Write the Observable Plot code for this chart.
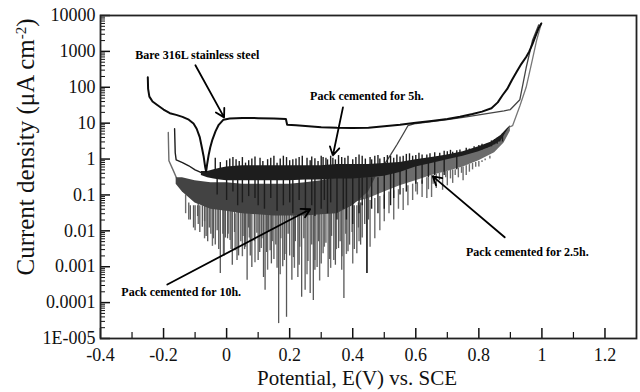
<!DOCTYPE html>
<html><head><meta charset="utf-8">
<script src="https://cdn.jsdelivr.net/npm/d3@7"></script>
<script src="https://cdn.jsdelivr.net/npm/@observablehq/plot@0.6"></script>
<style>body{margin:0;background:#fff} svg text{font-family:"Liberation Serif","Times New Roman",serif !important}</style>
</head><body><div id="chart"></div>
<script>
// ---------- axes ----------
const xTicks = [-0.4, -0.2, 0, 0.2, 0.4, 0.6, 0.8, 1, 1.2];
const xTickLabels = ["-0.4", "-0.2", "0", "0.2", "0.4", "0.6", "0.8", "1", "1.2"];
const xMinor = [-0.3, -0.1, 0.1, 0.3, 0.5, 0.7, 0.9, 1.1];
const yTicks = [1e-5, 1e-4, 1e-3, 1e-2, 1e-1, 1, 10, 100, 1000, 10000];
const yTickLabels = ["1E-005", "0.0001", "0.001", "0.01", "0.1", "1", "10", "100", "1000", "10000"];
const xLabel = "Potential, E(V) vs. SCE";
const yLabel = ["Current density (\u03bcA cm", "-2", ")"];

// ---------- Bare 316L stainless steel ----------
const bareE = [-0.25,-0.249,-0.245,-0.235,-0.22,-0.2,-0.18,-0.16,-0.14,-0.12,-0.105,-0.095,-0.085,-0.078,-0.073,-0.068,-0.065,-0.062,-0.057,-0.052,-0.045,-0.035,-0.025,-0.01,0.01,0.05,0.1,0.15,0.188,0.192,0.22,0.26,0.3,0.35,0.4,0.45,0.5,0.55,0.6,0.65,0.7,0.74,0.78,0.81,0.84,0.86,0.875,0.89,0.905,0.92,0.935,0.95,0.96,0.97,0.98,0.99,0.998];
const bareI = [190,90,55,40,32,24,19,17,15,12.5,9.8,7,4,2,1.2,0.6,0.45,0.7,1.3,2.1,3.5,6,9,12.5,13.5,14,13.8,13.5,13,9,8.7,8.2,7.7,7.4,7.3,7.5,8.2,9,10.3,11.5,13,15,18,21,26,38,60,90,160,270,450,700,1000,1600,2700,4500,6000];

// ---------- Pack cemented for 10h ----------
const h10BandE  = [-0.16,-0.14,-0.1,-0.05,0,0.05,0.1,0.15,0.2,0.25,0.3,0.35,0.4,0.45,0.48];
const h10BandHi = [0.3,0.3,0.25,0.22,0.22,0.2,0.2,0.2,0.2,0.22,0.25,0.3,0.4,0.5,0.55];
const h10BandLo = [0.2,0.12,0.06,0.04,0.035,0.03,0.028,0.026,0.026,0.026,0.028,0.03,0.05,0.12,0.4];
const h10LineE = [0.48,0.5,0.52,0.54,0.56,0.575,0.6,0.65,0.7,0.75,0.8,0.85,0.88,0.9,0.93,0.95,0.97,0.99];
const h10LineI = [0.5,0.7,1.3,2.5,5,8.5,9.8,11,12.5,14.5,17,20,22,24,45,350,2000,5500];
const h10Spikes = [[-0.12,0.06,0.02],[-0.1,0.05,0.01],[-0.077,0.05,0.0126],[-0.06,0.05,0.005],[-0.05,0.05,0.008],[-0.036,0.05,0.004],[-0.02,0.05,6.5e-4],[-0.004,0.05,0.0063],[0.011,0.05,0.0054],[0.018,0.05,0.0011],[0.033,0.05,0.0015],[0.045,0.05,0.005],[0.06,0.05,0.0035],[0.065,0.05,4.2e-4],[0.08,0.05,9.5e-4],[0.096,0.05,0.0085],[0.105,0.05,0.0025],[0.117,0.05,5e-4],[0.122,0.05,2.2e-4],[0.138,0.05,0.0028],[0.15,0.05,0.0016],[0.165,0.05,2.6e-5],[0.178,0.05,0.001],[0.19,0.05,3.9e-5],[0.2,0.05,0.002],[0.207,0.05,4.2e-4],[0.226,0.05,5e-4],[0.238,0.05,1.4e-4],[0.249,0.05,2.2e-4],[0.265,0.05,1.8e-4],[0.275,0.05,1.15e-4],[0.287,0.05,9.5e-4],[0.306,0.05,0.0023],[0.322,0.05,5e-4],[0.34,0.05,0.0015],[0.355,0.05,0.0032],[0.372,0.05,1.3e-4],[0.39,0.05,0.004],[0.413,0.05,0.0023],[0.43,0.06,0.0063],[0.445,0.1,6.5e-4],
 [-0.115,0.05,0.02],[-0.105,0.05,0.012],[-0.092,0.05,0.025],[-0.085,0.05,0.009],[-0.07,0.05,0.018],[-0.065,0.05,0.007],[-0.055,0.05,0.012],[-0.042,0.05,0.006],[-0.03,0.05,0.01],[-0.025,0.05,0.003],[-0.012,0.05,0.008],[-0.008,0.05,0.002],[0.003,0.05,0.006],[0.014,0.05,0.003],[0.025,0.05,0.009],[0.038,0.05,0.002],[0.052,0.05,0.007],[0.057,0.05,0.003],[0.07,0.05,0.012],[0.075,0.05,0.002],[0.088,0.05,0.005],[0.1,0.05,0.0015],[0.112,0.05,0.006],[0.127,0.05,0.0025],[0.133,0.05,0.009],[0.142,0.05,0.0012],[0.156,0.05,0.004],[0.16,0.05,0.0009],[0.172,0.05,0.006],[0.183,0.05,0.0015],[0.195,0.05,0.008],[0.212,0.05,0.0018],[0.218,0.05,0.005],[0.23,0.05,0.0011],[0.245,0.05,0.006],[0.258,0.05,0.0014],[0.27,0.05,0.004],[0.28,0.05,0.0008],[0.292,0.05,0.005],[0.3,0.05,0.0012],[0.315,0.05,0.0045],[0.327,0.05,0.0016],[0.333,0.05,0.007],[0.345,0.05,0.0011],[0.36,0.05,0.005],[0.366,0.05,0.0019],[0.378,0.05,0.008],[0.385,0.05,0.0026],[0.398,0.05,0.009],[0.405,0.05,0.003],[0.418,0.06,0.012],[0.425,0.06,0.004],[0.438,0.08,0.015],[0.45,0.1,0.02]];

// ---------- Pack cemented for 2.5h ----------
const h25StartE = [-0.185,-0.184,-0.183,-0.17,-0.155,-0.14];
const h25StartI = [5.5,2,0.9,0.5,0.25,0.2];
const h25BandE  = [-0.14,-0.1,-0.05,0,0.1,0.2,0.3,0.4,0.45,0.5,0.55,0.6,0.65,0.7,0.75,0.8,0.85,0.88,0.9];
const h25BandHi = [0.22,0.2,0.18,0.18,0.18,0.18,0.2,0.25,0.3,0.4,0.55,0.7,0.9,1.1,1.4,1.9,2.8,4.5,8];
const h25BandLo = [0.12,0.08,0.06,0.05,0.04,0.04,0.045,0.06,0.08,0.12,0.18,0.25,0.35,0.45,0.6,0.9,1.5,2.8,6];
const h25LineE = [0.9,0.907,0.93,0.95,0.97,0.983,0.998];
const h25LineI = [8,8.5,30,100,600,2000,6000];
const h25Spikes = [[-0.13,0.1,0.03],[-0.09,0.06,0.015],[-0.07,0.05,0.006],[-0.045,0.04,0.0037],[-0.01,0.04,0.0021],[0.005,0.04,0.008],[0.027,0.03,0.0028],[0.05,0.03,0.0019],[0.072,0.03,0.0063],[0.09,0.03,0.0013],[0.11,0.03,0.0032],[0.13,0.03,0.0008],[0.145,0.03,0.005],[0.17,0.03,0.0006],[0.185,0.03,0.0022],[0.215,0.03,0.0009],[0.232,0.03,0.0035],[0.255,0.03,0.0006],[0.28,0.03,0.0015],[0.295,0.03,0.0004],[0.31,0.04,0.0035],[0.33,0.04,0.0009],[0.348,0.04,0.003],[0.365,0.04,0.0008],[0.38,0.04,0.0022],[0.4,0.05,0.0012],[0.42,0.05,0.005],[0.455,0.07,0.0035],[0.47,0.08,0.006],[0.486,0.09,0.01],[0.5,0.1,0.018],[0.515,0.12,0.03],[0.53,0.13,0.02],[0.545,0.14,0.04],[0.56,0.15,0.037],[0.575,0.18,0.05],[0.59,0.2,0.07],[0.605,0.22,0.1],[0.62,0.25,0.085],[0.635,0.3,0.08],[0.65,0.35,0.085],[0.665,0.38,0.15],[0.685,0.42,0.135],[0.7,0.45,0.18],[0.717,0.5,0.21],[0.735,0.55,0.3],[0.75,0.6,0.25],[0.77,0.7,0.43],[0.79,0.8,0.59],[0.81,0.9,0.8],
 [0.6,0.25,0.12],[0.64,0.3,0.14],[0.655,0.35,0.2],[0.675,0.4,0.25],[0.695,0.45,0.3],[0.71,0.5,0.28],[0.725,0.5,0.35],[0.745,0.6,0.4],[0.76,0.65,0.35],[0.78,0.75,0.5],[0.8,0.85,0.6],[0.82,1,0.9],[0.835,1.2,1.0]];

// ---------- Pack cemented for 5h ----------
const h5StartE = [-0.165,-0.163,-0.16,-0.14,-0.12,-0.1,-0.08];
const h5StartI = [7,1.5,0.95,0.8,0.65,0.5,0.42];
const h5BandE  = [-0.08,-0.06,-0.04,-0.02,0,0.05,0.1,0.15,0.2,0.25,0.3,0.35,0.4,0.45,0.5,0.55,0.6,0.65,0.7,0.75,0.8,0.84,0.87,0.89,0.9];
const h5BandHi = [0.45,0.45,0.5,0.55,0.6,0.65,0.65,0.65,0.65,0.65,0.65,0.7,0.7,0.7,0.75,0.8,0.95,1.1,1.3,1.6,2.2,3.0,4.5,7.0,8.5];
const h5BandLo = [0.35,0.3,0.28,0.26,0.25,0.25,0.25,0.25,0.25,0.26,0.26,0.28,0.28,0.3,0.33,0.42,0.6,0.75,0.95,1.2,1.6,2.2,3.2,6,8];
const h5Spikes = [[-0.036,0.5,1.05],[0.0,0.5,0.9],[0.02,0.5,1.1],[0.04,0.5,0.85],[0.06,0.5,0.77],[0.08,0.5,1.0],[0.106,0.5,1.05],[0.13,0.5,0.96],[0.15,0.5,1.2],[0.16,0.5,0.77],[0.19,0.5,1.1],[0.21,0.5,0.95],[0.22,0.5,1.0],[0.24,0.5,1.2],[0.255,0.5,1.05],[0.265,0.5,0.9],[0.28,0.5,1.02],[0.306,0.5,1.1],[0.32,0.5,0.95],[0.337,0.5,1.05],[0.355,0.5,1.25],[0.375,0.5,1.05],[0.4,0.5,0.95],[0.42,0.5,1.3],[0.44,0.5,1.0],[0.455,0.5,1.1],[0.47,0.5,1.2],[0.486,0.5,1.0],[0.51,0.5,1.25],[0.53,0.5,1.05],[0.55,0.6,1.15],[0.57,0.7,1.35],[0.59,0.8,1.2],[0.62,0.9,1.3],[0.635,1,1.3],[0.66,1,1.5],[0.676,1.1,1.45],[0.7,1.2,1.6],[0.717,1.3,1.55],[0.74,1.4,1.8],[0.77,1.5,1.9],[0.8,1.8,2.4],[0.825,2,2.6],[0.85,2.5,3.5],[0.866,3,4],
 [-0.02,0.5,0.8],[0.01,0.5,1.0],[0.03,0.5,0.95],[0.05,0.5,1.1],[0.07,0.5,0.9],[0.09,0.5,1.15],[0.115,0.5,0.85],[0.14,0.5,1.05],[0.17,0.5,1.0],[0.18,0.5,1.2],[0.2,0.5,0.9],[0.23,0.5,1.1],[0.27,0.5,1.15],[0.29,0.5,0.85],[0.3,0.5,1.2],[0.315,0.5,1.05],[0.33,0.5,1.2],[0.345,0.5,0.95],[0.365,0.5,1.1],[0.385,0.5,1.2],[0.41,0.5,1.1],[0.43,0.5,1.2],[0.46,0.5,0.95],[0.48,0.5,1.25],[0.5,0.5,1.1],[0.52,0.5,1.2],[0.54,0.6,1.3],[0.56,0.6,1.2],[0.58,0.7,1.4],[0.6,0.8,1.25],[0.61,0.9,1.45],[0.645,1,1.4],[0.69,1.1,1.65],[0.71,1.2,1.75],[0.73,1.3,1.7],[0.76,1.4,2.0],[0.785,1.6,2.2],[0.81,1.8,2.6],[0.84,2.2,3.2],[0.858,2.6,3.8],[0.875,3,5],
 [-0.03,0.3,0.1],[0.0,0.3,0.07],[0.02,0.3,0.12],[0.035,0.3,0.05],[0.05,0.3,0.06],[0.07,0.3,0.09],[0.09,0.3,0.08],[0.1,0.3,0.05],[0.12,0.3,0.04],[0.14,0.3,0.08],[0.16,0.3,0.035],[0.18,0.3,0.05],[0.2,0.3,0.06],[0.21,0.3,0.03],[0.23,0.3,0.07],[0.25,0.3,0.03],[0.27,0.3,0.05],[0.28,0.3,0.025],[0.3,0.3,0.04],[0.31,0.3,0.07],[0.32,0.3,0.03],[0.33,0.3,0.06],[0.35,0.3,0.02],[0.37,0.3,0.04],[0.38,0.3,0.02],[0.4,0.3,0.015],[0.42,0.3,0.03],[0.43,0.3,0.05],[0.445,0.3,6.5e-4],[0.46,0.3,0.04],[0.48,0.3,0.03],[0.5,0.35,0.04],[0.52,0.4,0.05],[0.53,0.4,0.08],[0.55,0.5,0.1],[0.57,0.5,0.12],[0.6,0.7,0.2],[0.62,0.7,0.2],[0.64,0.8,0.3],[0.66,0.8,0.35],[0.69,1,0.35],[0.73,1.2,0.5]];

// ---------- annotations ----------
const noteText = ["Bare 316L stainless steel", "Pack cemented for 5h.", "Pack cemented for 2.5h.", "Pack cemented for 10h."];
const noteE = [-0.093, 0.445, 0.954, -0.144];
const noteI = [770, 55, 0.0025, 0.0002];
const arrowFromE = [-0.099, 0.369, 0.882, -0.188];
const arrowFromI = [410, 27.6, 0.0066, 0.00032];
const arrowToE = [-0.008, 0.337, 0.654, 0.265];
const arrowToI = [14.5, 1.26, 0.33, 0.04];

// ---------- build tables ----------
const line = (E, I) => E.map((e, k) => ({E: e, I: I[k]}));
const band = (E, lo, hi) => E.map((e, k) => ({E: e, lo: lo[k], hi: hi[k]}));
const spikes = (s) => s.map(([e, a, b]) => ({E: e, a, b}));
const yMinor = [];
for (let d = -5; d < 4; d++) for (let m = 2; m <= 9; m++) yMinor.push(m * Math.pow(10, d));
const notes = noteText.map((t, k) => ({t, E: noteE[k], I: noteI[k]}));
const arrows = arrowFromE.map((e, k) => ({x1: e, y1: arrowFromI[k], x2: arrowToE[k], y2: arrowToI[k]}));

const c5 = "#1d1d1d", c10 = "#434343", c25 = "#6c6c6c";
const frameW = 640 - 100 - 4, frameH = 392 - 15 - 54;

const plot = Plot.plot({
  width: 640, height: 392,
  marginLeft: 100, marginRight: 4, marginTop: 15, marginBottom: 54,
  style: {fontFamily: "'Liberation Serif', 'Times New Roman', serif", fontSize: "18px", background: "#fff", color: "#111"},
  x: {domain: [-0.4, 1.3]},
  y: {type: "log", domain: [1e-5, 1e4]},
  marks: [
    Plot.axisX({ticks: xTicks, tickSize: 0, tickPadding: 10, label: null,
      tickFormat: d => xTickLabels[xTicks.findIndex(t => Math.abs(t - d) < 1e-9)]}),
    Plot.axisY({ticks: yTicks, tickSize: 0, tickPadding: 5, label: null,
      tickFormat: d => yTickLabels[yTicks.findIndex(t => Math.abs(Math.log10(t) - Math.log10(d)) < 1e-6)]}),
    // 2.5h
    Plot.ruleX(spikes(h25Spikes), {x: "E", y1: "a", y2: "b", stroke: c25, strokeWidth: 1.4, clip: true}),
    Plot.areaY(band(h25BandE, h25BandLo, h25BandHi), {x: "E", y1: "lo", y2: "hi", fill: c25, clip: true}),
    Plot.line(line(h25StartE, h25StartI), {x: "E", y: "I", stroke: c25, strokeWidth: 1.4}),
    Plot.line(line(h25LineE, h25LineI), {x: "E", y: "I", stroke: "#777", strokeWidth: 1.3}),
    // 10h
    Plot.ruleX(spikes(h10Spikes), {x: "E", y1: "a", y2: "b", stroke: "#575757", strokeWidth: 1.3, clip: true}),
    Plot.areaY(band(h10BandE, h10BandLo, h10BandHi), {x: "E", y1: "lo", y2: "hi", fill: c10, clip: true}),
    Plot.line(line(h10LineE, h10LineI), {x: "E", y: "I", stroke: "#444", strokeWidth: 1.3}),
    // 5h
    Plot.ruleX(spikes(h5Spikes), {x: "E", y1: "a", y2: "b", stroke: c5, strokeWidth: 1.4, clip: true}),
    Plot.areaY(band(h5BandE, h5BandLo, h5BandHi), {x: "E", y1: "lo", y2: "hi", fill: c5, clip: true}),
    Plot.line(line(h5StartE, h5StartI), {x: "E", y: "I", stroke: c5, strokeWidth: 1.4}),
    // bare
    Plot.line(line(bareE, bareI), {x: "E", y: "I", stroke: "#0c0c0c", strokeWidth: 2}),
    // ticks (inside)
    Plot.ruleX(xTicks, {x: d => d, insetTop: frameH - 10, stroke: "#111", strokeWidth: 1.5}),
    Plot.ruleX(xMinor, {x: d => d, insetTop: frameH - 6, stroke: "#111", strokeWidth: 1.2}),
    Plot.ruleY(yTicks, {y: d => d, insetRight: frameW - 10, stroke: "#111", strokeWidth: 1.5}),
    Plot.ruleY(yMinor, {y: d => d, insetRight: frameW - 5, stroke: "#111", strokeWidth: 1}),
    Plot.frame({stroke: "#222", strokeWidth: 1.8}),
    // annotations
    Plot.arrow(arrows, {x1: "x1", y1: "y1", x2: "x2", y2: "y2", stroke: "#000", strokeWidth: 1.8, headLength: 8}),
    Plot.text(notes, {x: "E", y: "I", text: "t", fontWeight: "bold", fontSize: 12, fill: "#000"})
  ]
});

const svg = d3.select(plot);
svg.append("text")
  .attr("x", 357).attr("y", 385)
  .attr("text-anchor", "middle")
  .attr("font-size", 21).attr("fill", "#111")
  .text(xLabel);
const yl = svg.append("text")
  .attr("transform", "translate(34,147) rotate(-90)")
  .attr("text-anchor", "middle")
  .attr("font-size", 25).attr("fill", "#111");
yl.append("tspan").text(yLabel[0]);
yl.append("tspan").attr("baseline-shift", "super").attr("font-size", 15).text(yLabel[1]);
yl.append("tspan").text(yLabel[2]);

document.getElementById("chart").append(plot);
</script></body></html>
